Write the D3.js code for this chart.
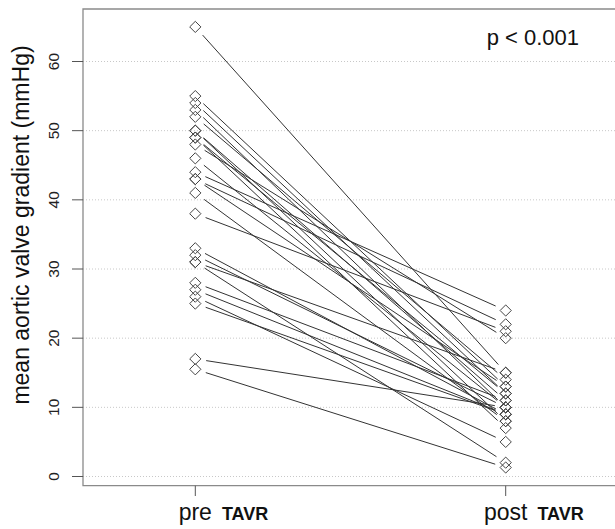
<!DOCTYPE html>
<html>
<head>
<meta charset="utf-8">
<script src="https://cdn.jsdelivr.net/npm/d3@7"></script>
<style>
  body { margin: 0; background: #fff; }
  svg { display: block; font-family: "Liberation Sans", Arial, Helvetica, sans-serif; }
</style>
</head>
<body>
<div id="chart"></div>
<script>
// paired values, one entry per patient
const preTAVR  = [65, 55, 54, 53, 52, 50, 50, 49, 49, 48, 46, 44, 43, 43, 41, 38, 33, 32, 31, 31, 28, 27, 26, 25, 17, 15.5];
const postTAVR = [15, 13, 12, 10, 14, 11,  8, 12,  7, 20, 10, 24, 22, 13,  8, 21,  9, 10,  2, 15, 11,  9,  5,  9, 10, 1.3];
const groups = ["pre", "post"];
const yTicks = [0, 10, 20, 30, 40, 50, 60];
const pLabel = "p < 0.001";

const width = 615, height = 529;
const frame = {left: 83, top: 9, bottom: 485.7};

const svg = d3.select("#chart").append("svg")
    .attr("width", width)
    .attr("height", height);

const x = d3.scalePoint().domain(groups).range([195.3, 505.7]);
const y = d3.scaleLinear().domain([0, 60]).range([476.5, 61.5]);

const pairs = preTAVR.map((d, i) => ({pre: d, post: postTAVR[i]}));

// dotted grid
svg.append("g")
  .selectAll("line")
  .data(yTicks)
  .join("line")
    .attr("x1", frame.left).attr("x2", width)
    .attr("y1", d => y(d)).attr("y2", d => y(d))
    .attr("stroke", "#c8c8c8")
    .attr("stroke-width", 1)
    .attr("stroke-dasharray", "1,2");

// connecting lines, shortened near the points like type = "b"
const gap = 11;
svg.append("g")
  .selectAll("line")
  .data(pairs)
  .join("line")
    .each(function(d) {
      const x0 = x("pre"), y0 = y(d.pre), x1 = x("post"), y1 = y(d.post);
      const len = Math.hypot(x1 - x0, y1 - y0);
      const ux = (x1 - x0) / len, uy = (y1 - y0) / len;
      d3.select(this)
        .attr("x1", x0 + ux * gap).attr("y1", y0 + uy * gap)
        .attr("x2", x1 - ux * gap).attr("y2", y1 - uy * gap);
    })
    .attr("stroke", "#333")
    .attr("stroke-width", 1);

// diamonds
const r = 5.6;
const diamond = (cx, cy) => `M${cx},${cy - r}L${cx + r},${cy}L${cx},${cy + r}L${cx - r},${cy}Z`;
const pts = [];
pairs.forEach(d => { pts.push({g: "pre", v: d.pre}); pts.push({g: "post", v: d.post}); });
svg.append("g")
  .selectAll("path")
  .data(pts)
  .join("path")
    .attr("d", d => diamond(x(d.g), y(d.v)))
    .attr("fill", "none")
    .attr("stroke", "#444")
    .attr("stroke-width", 1);

// frame (open to the right edge of the window)
svg.append("path")
    .attr("d", `M${width + 5},${frame.top}H${frame.left}V${frame.bottom}H${width + 5}`)
    .attr("fill", "none")
    .attr("stroke", "#8a8a8a")
    .attr("stroke-width", 1.3);

// y axis ticks + rotated labels
const yAxis = svg.append("g");
yAxis.selectAll("line")
  .data(yTicks)
  .join("line")
    .attr("x1", 72).attr("x2", frame.left)
    .attr("y1", d => y(d)).attr("y2", d => y(d))
    .attr("stroke", "#555");
yAxis.selectAll("text")
  .data(yTicks)
  .join("text")
    .attr("transform", d => `translate(58.5,${y(d)}) rotate(-90)`)
    .attr("text-anchor", "middle")
    .attr("font-size", 15.5)
    .attr("fill", "#222")
    .text(d => d);

// x axis ticks + labels ("pre"/"post" centred on the tick, bold TAVR appended)
const xAxis = svg.append("g");
xAxis.selectAll("line")
  .data(groups)
  .join("line")
    .attr("x1", d => x(d)).attr("x2", d => x(d))
    .attr("y1", frame.bottom).attr("y2", 496)
    .attr("stroke", "#555");
xAxis.selectAll("text")
  .data(groups)
  .join("text")
    .attr("y", 520)
    .attr("fill", "#111")
    .each(function(d) {
      const t = d3.select(this);
      const w = t.append("tspan").attr("font-size", 23).text(d);
      const half = w.node().getComputedTextLength() / 2;
      t.attr("x", x(d) - half);
      t.append("tspan").attr("font-size", 18).attr("font-weight", "bold").attr("dx", 10).text("TAVR");
    });

// axis title
svg.append("text")
    .attr("transform", `translate(29,${(48 + 402) / 2}) rotate(-90)`)
    .attr("text-anchor", "middle")
    .attr("font-size", 23)
    .attr("fill", "#111")
    .text("mean aortic valve gradient (mmHg)");

// p value
svg.append("text")
    .attr("x", 486.7).attr("y", 45)
    .attr("font-size", 22)
    .attr("fill", "#111")
    .text(pLabel);
</script>
</body>
</html>
